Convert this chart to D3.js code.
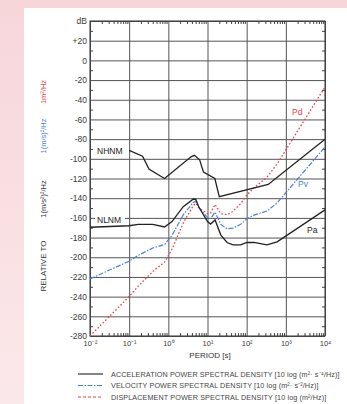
<!DOCTYPE html>
<html><head><meta charset="utf-8">
<script src="https://cdn.jsdelivr.net/npm/d3@7"></script>
<style>body{margin:0;background:#fff;} svg{display:block;font-family:Arial,'Liberation Sans',sans-serif;}</style>
</head><body><svg id="c" width="347" height="404"></svg>
<script>
// ---- data (period in s, level in dB) ----
const nhnmPeriod = [0.1, 0.22, 0.32, 0.8, 3.8, 4.6, 6.3, 7.9, 15.4, 20, 354.8, 10000];
const nhnmDb     = [-91.5, -97.4, -110.5, -120.0, -98.0, -96.5, -101.0, -113.5, -120.0, -138.5, -126.0, -80.1];
const nlnmPeriod = [0.01, 0.1, 0.17, 0.4, 0.8, 1.24, 2.4, 4.3, 5.0, 6.0, 10, 12, 15.6, 21.9, 31.6, 45, 70, 101, 154, 328, 600, 10000];
const paDb = [-169.5, -168.0, -166.7, -166.7, -169.2, -163.7, -148.6, -141.1, -141.1, -149.0, -163.8, -166.3, -162.1, -177.5, -185.0, -187.5, -187.5, -185.0, -185.0, -187.5, -184.4, -151.9];
const pvDb = [-222.0, -204.0, -198.1, -190.6, -187.1, -177.8, -157.0, -144.4, -143.1, -149.4, -159.7, -160.6, -154.2, -166.7, -171.0, -170.4, -166.6, -160.9, -157.2, -153.1, -144.8, -87.9];
const pdDb = [-280.0, -239.9, -229.4, -214.5, -205.0, -191.9, -165.3, -147.7, -145.1, -149.8, -155.7, -155.0, -146.3, -155.8, -156.9, -153.3, -145.6, -136.8, -129.4, -118.8, -105.2, -27.0];
const yTicks      = [40, 20, 0, -20, -40, -60, -80, -100, -120, -140, -160, -180, -200, -220, -240, -260, -280];
const yTickLabels = ["dB", "+20", "0", "-20", "-40", "-60", "-80", "-100", "-120", "-140", "-160", "-180", "-200", "-220", "-240", "-260", "-280"];
const xTicks      = [0.01, 0.1, 1, 10, 100, 1000, 10000];
const xTickLabels = ["10⁻²", "10⁻¹", "10⁰", "10¹", "10²", "10³", "10⁴"];
const legendLabels = [
  "ACCELERATION POWER SPECTRAL DENSITY [10 log (m²· s⁻⁴/Hz)]",
  "VELOCITY POWER SPECTRAL DENSITY [10 log (m²· s⁻²/Hz)]",
  "DISPLACEMENT POWER SPECTRAL DENSITY [10 log (m²/Hz)]"
];

const svg = d3.select("#c");
const W = 347, H = 404;
const L = 90, R = 325, T = 21, B = 336;
const FONT = "Arial,'Liberation Sans',sans-serif";

// background
const defs = svg.append("defs");
const g = defs.append("linearGradient").attr("id","bg").attr("x1",0).attr("y1",0).attr("x2",0).attr("y2",1);
g.append("stop").attr("offset","0%").attr("stop-color","#f7d6da");
g.append("stop").attr("offset","100%").attr("stop-color","#fbe8ea");
svg.append("rect").attr("width",W).attr("height",H).attr("fill","url(#bg)");
svg.append("rect").attr("x",24).attr("y",8).attr("width",W-24).attr("height",H-8).attr("fill","#fff");

const x = d3.scaleLog().domain([0.01, 10000]).range([L, R]);
const y = d3.scaleLinear().domain([40, -280]).range([T, B]);

const gridCol = "#555";
// horizontal grid
svg.append("g").attr("transform",`translate(${L},0)`)
  .call(d3.axisLeft(y).tickValues(yTicks).tickSize(-(R-L)).tickFormat(""))
  .call(a => a.select(".domain").remove())
  .call(a => a.selectAll("line").attr("stroke",gridCol).attr("stroke-width",1));
// vertical grid
svg.append("g").attr("transform",`translate(0,${B})`)
  .call(d3.axisBottom(x).tickValues(xTicks).tickSize(-(B-T)).tickFormat(""))
  .call(a => a.select(".domain").remove())
  .call(a => a.selectAll("line").attr("stroke",gridCol).attr("stroke-width",1));

// minor y ticks (inward both sides)
const yMinor = d3.range(30, -280, -20);
svg.append("g").attr("transform",`translate(${L},0)`)
  .call(d3.axisRight(y).tickValues(yMinor).tickSize(3).tickFormat(""))
  .call(a => a.select(".domain").remove())
  .call(a => a.selectAll("line").attr("stroke","#444"));
svg.append("g").attr("transform",`translate(${R},0)`)
  .call(d3.axisLeft(y).tickValues(yMinor).tickSize(3).tickFormat(""))
  .call(a => a.select(".domain").remove())
  .call(a => a.selectAll("line").attr("stroke","#444"));

// minor x ticks (inward top and bottom)
const xMinor = [];
for (let e = -2; e < 4; e++) for (let m = 2; m <= 9; m++) xMinor.push(m * Math.pow(10, e));
svg.append("g").attr("transform",`translate(0,${B})`)
  .call(d3.axisTop(x).tickValues(xMinor).tickSize(3).tickFormat(""))
  .call(a => a.select(".domain").remove())
  .call(a => a.selectAll("line").attr("stroke","#444"));
svg.append("g").attr("transform",`translate(0,${T})`)
  .call(d3.axisBottom(x).tickValues(xMinor).tickSize(3).tickFormat(""))
  .call(a => a.select(".domain").remove())
  .call(a => a.selectAll("line").attr("stroke","#444"));

// frame
svg.append("rect").attr("x",L).attr("y",T).attr("width",R-L).attr("height",B-T)
  .attr("fill","none").attr("stroke","#333").attr("stroke-width",1);

// y tick labels
svg.append("g").attr("transform",`translate(${L},0)`)
  .call(d3.axisLeft(y).tickValues(yTicks).tickSize(0).tickPadding(3).tickFormat((d,i) => yTickLabels[i]))
  .call(a => a.select(".domain").remove())
  .call(a => a.selectAll("text").attr("font-size",8.5).attr("fill","#3a3a3a").attr("font-family",FONT));
// x tick labels
svg.append("g").attr("transform",`translate(0,${B})`)
  .call(d3.axisBottom(x).tickValues(xTicks).tickSize(0).tickPadding(4.5).tickFormat((d,i) => xTickLabels[i]))
  .call(a => a.select(".domain").remove())
  .call(a => a.selectAll("text").attr("font-size",7.5).attr("fill","#3a3a3a").attr("font-family",FONT));

// curves
const line = d3.line().x(d => x(d[0])).y(d => y(d[1]));
const zip = (a, b) => a.map((v, i) => [v, b[i]]);
svg.append("path").datum(zip(nlnmPeriod, pdDb)).attr("d", line)
  .attr("fill","none").attr("stroke","#e8404c").attr("stroke-width",1.3).attr("stroke-dasharray","1.6,2");
svg.append("path").datum(zip(nlnmPeriod, pvDb)).attr("d", line)
  .attr("fill","none").attr("stroke","#4a82d6").attr("stroke-width",1.2).attr("stroke-dasharray","5,1.5,1.5,1.5");
svg.append("path").datum(zip(nlnmPeriod, paDb)).attr("d", line)
  .attr("fill","none").attr("stroke","#222").attr("stroke-width",1.3);
svg.append("path").datum(zip(nhnmPeriod, nhnmDb)).attr("d", line)
  .attr("fill","none").attr("stroke","#222").attr("stroke-width",1.3);

// curve labels
const lab = (t, px, py, col, fs) => svg.append("text").attr("x",px).attr("y",py).attr("fill",col)
  .attr("font-size",fs).text(t);
svg.append("rect").attr("x",95).attr("y",214).attr("width",30).attr("height",10).attr("fill","#fff");
lab("NHNM", 97, 153.5, "#222", 8.5);
lab("NLNM", 97, 222.5, "#222", 8.5);
lab("Pd", 292, 115, "#e8404c", 8.5);
lab("Pv", 298, 187, "#4a82d6", 8.5);
lab("Pa", 307, 233, "#222", 8.5);

// axis titles
svg.append("text").attr("x",210).attr("y",358).attr("text-anchor","middle")
  .attr("font-size",8).attr("fill","#333").text("PERIOD [s]");
const rot = (t, cx, cy, col, fs) => svg.append("text").attr("transform",`translate(${cx},${cy}) rotate(-90)`)
  .attr("text-anchor","middle").attr("fill",col).attr("font-size",fs).text(t);
rot("RELATIVE  TO", 46, 266, "#333", 8);
rot("1(m/s²)²/Hz", 46, 199, "#333", 7.5);
rot("1(m/s)²/Hz", 46, 136, "#4a82d6", 7.5);
rot("1m²/Hz", 46, 92, "#e8404c", 7.5);

// legend
const legStyles = [
  {c:"#333", d:null},
  {c:"#4a82d6", d:"5,1.5,1.5,1.5"},
  {c:"#e8404c", d:"3,2"}
];
legendLabels.forEach((t, i) => {
  const ly = 374 + i * 11.5;
  const ln = svg.append("line").attr("x1",78).attr("x2",103).attr("y1",ly).attr("y2",ly)
    .attr("stroke",legStyles[i].c).attr("stroke-width",1.2);
  if (legStyles[i].d) ln.attr("stroke-dasharray",legStyles[i].d);
  svg.append("text").attr("x",111).attr("y",ly+2.6).attr("font-size",7.2).attr("letter-spacing",0.12)
    .attr("fill","#444").text(t);
});
</script></body></html>
